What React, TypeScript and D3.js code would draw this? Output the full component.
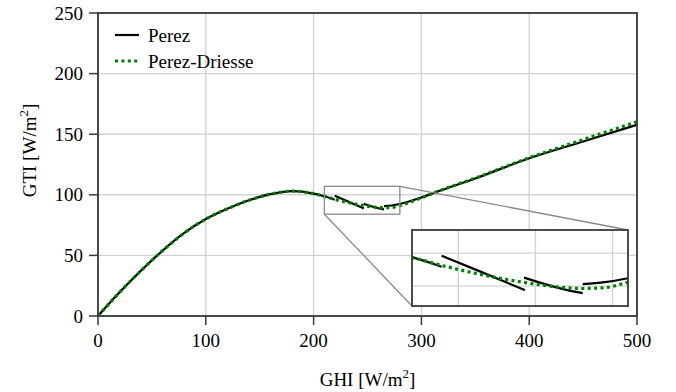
import React from "react";
import * as d3 from "d3";

// ---- data ----
const xTicks = [0, 100, 200, 300, 400, 500];
const yTicks = [0, 50, 100, 150, 200, 250];

const driesseGhi = [0, 20, 40, 60, 80, 100, 120, 140, 160, 180, 200, 210, 220, 233, 246, 255, 265, 272, 280, 300, 314, 350, 400, 450, 500];
const driesseGti = [0, 19.5, 37.5, 54, 68.5, 80, 88.5, 95.5, 100.5, 103, 101, 98.7, 96.2, 93.4, 91.2, 90.0, 89.3, 89.5, 91.2, 97.4, 102.4, 113.8, 130.6, 145.5, 160.3];

const perezSeg1Ghi = [0, 20, 40, 60, 80, 100, 120, 140, 160, 180, 200, 210, 219.6];
const perezSeg1Gti = [0, 19.5, 37.5, 54, 68.5, 80, 88.5, 95.5, 100.5, 103, 101, 98.8, 95.9];
const perezSeg2Ghi = [219.6, 233, 246.6];
const perezSeg2Gti = [99.2, 94.1, 88.8];
const perezSeg3Ghi = [246.3, 255, 260, 265.3];
const perezSeg3Gti = [92.6, 90.1, 88.9, 87.9];
const perezSeg4Ghi = [265.3, 272.5, 280, 300, 314, 350, 400, 450, 500];
const perezSeg4Gti = [90.6, 91.2, 92.4, 97.8, 102.4, 113.5, 130.1, 144, 157.8];

const insetXDomain = [210, 280];
const insetYDomain = [84, 107];
const insetXTicks = [225, 250, 275];
const insetYTicks = [90, 100];

const legendLabels = ["Perez", "Perez-Driesse"];

// ---- layout ----
const W = 676, H = 392;
const M = { left: 98, right: 637, top: 13, bottom: 316 };
const IN = { left: 412, right: 628, top: 230, bottom: 306 };

const FONT = "'Liberation Serif', 'Times New Roman', serif";

function zip(xs: number[], ys: number[]) {
  return xs.map((x, i) => [x, ys[i]] as [number, number]);
}

export default function App() {
  const x = d3.scaleLinear().domain([0, 500]).range([M.left, M.right]);
  const y = d3.scaleLinear().domain([0, 250]).range([M.bottom, M.top]);
  const xi = d3.scaleLinear().domain(insetXDomain).range([IN.left, IN.right]);
  const yi = d3.scaleLinear().domain(insetYDomain).range([IN.bottom, IN.top]);

  const perezSegs = [
    zip(perezSeg1Ghi, perezSeg1Gti),
    zip(perezSeg2Ghi, perezSeg2Gti),
    zip(perezSeg3Ghi, perezSeg3Gti),
    zip(perezSeg4Ghi, perezSeg4Gti),
  ];
  const driesse = zip(driesseGhi, driesseGti);

  const mkLine = (sx: any, sy: any) =>
    d3.line<[number, number]>().x(d => sx(d[0])).y(d => sy(d[1])).curve(d3.curveMonotoneX);
  const lineMain = mkLine(x, y);
  const lineIn = mkLine(xi, yi);

  const grid = "#d3d3d3";
  const spine = "#3a3a3a";
  const green = "#008000";
  const dash = "3,3.4";

  // zoom rectangle in main coords
  const zr = {
    x0: x(insetXDomain[0]), x1: x(insetXDomain[1]),
    y0: y(insetYDomain[1]), y1: y(insetYDomain[0]),
  };

  return (
    <svg width={W} height={H} style={{ position: "absolute", left: 0, top: 0, background: "#fff" }} fontFamily={FONT}>
      <defs>
        <clipPath id="mainClip">
          <rect x={M.left} y={M.top} width={M.right - M.left} height={M.bottom - M.top} />
        </clipPath>
        <clipPath id="inClip">
          <rect x={IN.left} y={IN.top} width={IN.right - IN.left} height={IN.bottom - IN.top} />
        </clipPath>
      </defs>

      {/* grid */}
      {xTicks.map(t => (
        <line key={"gx" + t} x1={x(t)} x2={x(t)} y1={M.top} y2={M.bottom} stroke={grid} strokeWidth={1.4} />
      ))}
      {yTicks.map(t => (
        <line key={"gy" + t} x1={M.left} x2={M.right} y1={y(t)} y2={y(t)} stroke={grid} strokeWidth={1.4} />
      ))}

      {/* curves */}
      <g clipPath="url(#mainClip)">
        {perezSegs.map((s, i) => (
          <path key={"p" + i} d={lineMain(s) || ""} fill="none" stroke="#000" strokeWidth={2.2} />
        ))}
        <path d={lineMain(driesse) || ""} fill="none" stroke={green} strokeWidth={3.2} strokeDasharray={dash} />
      </g>

      {/* spines */}
      <rect x={M.left} y={M.top} width={M.right - M.left} height={M.bottom - M.top} fill="none" stroke={spine} strokeWidth={1.8} />

      {/* ticks */}
      {xTicks.map(t => (
        <g key={"tx" + t}>
          <line x1={x(t)} x2={x(t)} y1={M.bottom} y2={M.bottom + 9} stroke={spine} strokeWidth={1.5} />
          <text x={x(t)} y={M.bottom + 31} fontSize={19} textAnchor="middle" fill="#000">{t}</text>
        </g>
      ))}
      {yTicks.map(t => (
        <g key={"ty" + t}>
          <line x1={M.left - 9} x2={M.left} y1={y(t)} y2={y(t)} stroke={spine} strokeWidth={1.5} />
          <text x={M.left - 15} y={y(t) + 6.5} fontSize={19} textAnchor="end" fill="#000">{t}</text>
        </g>
      ))}

      {/* axis labels */}
      <text x={(M.left + M.right) / 2} y={386} fontSize={19} textAnchor="middle" fill="#000">
        GHI [W/m<tspan fontSize={13} dy={-8}>2</tspan><tspan dy={8}>]</tspan>
      </text>
      <text transform={`translate(36, ${(M.top + M.bottom) / 2 - 14}) rotate(-90)`} fontSize={19} textAnchor="middle" fill="#000">
        GTI [W/m<tspan fontSize={13} dy={-8}>2</tspan><tspan dy={8}>]</tspan>
      </text>

      {/* legend */}
      <line x1={115} x2={139} y1={35} y2={35} stroke="#000" strokeWidth={2.2} />
      <text x={148} y={41.5} fontSize={19} fill="#000">{legendLabels[0]}</text>
      <line x1={115} x2={139} y1={61} y2={61} stroke={green} strokeWidth={3.2} strokeDasharray={dash} />
      <text x={148} y={67.5} fontSize={19} fill="#000">{legendLabels[1]}</text>

      {/* zoom indicator */}
      <rect x={zr.x0} y={zr.y0} width={zr.x1 - zr.x0} height={zr.y1 - zr.y0} fill="none" stroke="#8a8a8a" strokeWidth={1.3} />
      <line x1={zr.x1} y1={zr.y0} x2={IN.right} y2={IN.top} stroke="#8a8a8a" strokeWidth={1.3} />
      <line x1={zr.x0} y1={zr.y1} x2={IN.left} y2={IN.bottom} stroke="#8a8a8a" strokeWidth={1.3} />

      {/* inset */}
      <rect x={IN.left} y={IN.top} width={IN.right - IN.left} height={IN.bottom - IN.top} fill="#fff" />
      {insetXTicks.map(t => (
        <line key={"igx" + t} x1={xi(t)} x2={xi(t)} y1={IN.top} y2={IN.bottom} stroke={grid} strokeWidth={1.4} />
      ))}
      {insetYTicks.map(t => (
        <line key={"igy" + t} x1={IN.left} x2={IN.right} y1={yi(t)} y2={yi(t)} stroke={grid} strokeWidth={1.4} />
      ))}
      <g clipPath="url(#inClip)">
        {perezSegs.map((s, i) => (
          <path key={"ip" + i} d={lineIn(s) || ""} fill="none" stroke="#000" strokeWidth={2.2} />
        ))}
        <path d={lineIn(driesse) || ""} fill="none" stroke={green} strokeWidth={3.2} strokeDasharray={dash} />
      </g>
      <rect x={IN.left} y={IN.top} width={IN.right - IN.left} height={IN.bottom - IN.top} fill="none" stroke={spine} strokeWidth={1.8} />
    </svg>
  );
}
